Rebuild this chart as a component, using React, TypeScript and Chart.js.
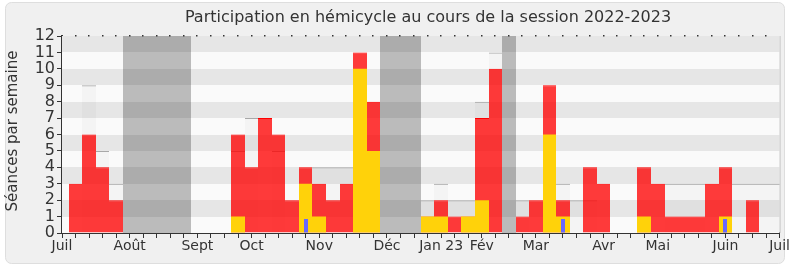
import React, { useEffect, useRef } from "react";
import { Chart, registerables } from "chart.js";

Chart.register(...registerables);

// Weekly positions (54 ticks, Juil 2022 → Juil 2023)
const weekLabels: string[] = [
  "Juil", "", "", "", "", "Août", "", "", "", "", "Sept", "", "", "", "Oct", "", "", "", "",
  "Nov", "", "", "", "", "Déc", "", "", "", "Jan 23", "", "", "Fév", "", "", "", "Mar",
  "", "", "", "", "Avr", "", "", "", "Mai", "", "", "", "", "Juin", "", "", "", "Juil",
];

// Présences en hémicycle (red)
const presence: (number | null)[] = [
  null, 3, 6, 4, 2, null, null, null, null, null, null, null, null, 6, 4, 7, 6, 2,
  4, 3, 2, 3, 11, 8, null, null, null, 1, 2, 1, 1, 7, 10, null, 1, 2,
  9, 2, null, 4, 3, null, null, 4, 3, 1, 1, 1, 3, 4, null, 2, null, null,
];

// Interventions (yellow)
const interventions: (number | null)[] = [
  null, null, null, null, null, null, null, null, null, null, null, null, null, 1, null, null, null, null,
  3, 1, null, null, 10, 5, null, null, null, 1, 1, null, 1, 2, null, null, null, null,
  6, 1, null, null, null, null, null, 1, null, null, null, null, null, 1, null, null, null, null,
];

// Questions orales (blue)
const questions: (number | null)[] = [
  null, null, null, null, null, null, null, null, null, null, null, null, null, null, null, null, null, null,
  0.85, null, null, null, null, null, null, null, null, null, null, null, null, null, null, null, null, null,
  null, 0.85, null, null, null, null, null, null, null, null, null, null, null, 0.85, null, null, null, null,
];

// Médiane des députés (light grey)
const mediane: (number | null)[] = [
  null, null, 9, 5, 3, null, null, null, null, null, null, null, null, 5, 7, null, 5, null,
  null, 4, 4, 4, null, null, null, null, null, 2, 3, 2, 2, 8, 11, null, 2, null,
  null, 3, 2, 2, null, null, null, null, null, 3, 3, 3, null, null, 3, 3, 3, 3,
];

// Vacances parlementaires (grey columns)
const vacances: number[] = [5, 6, 7, 8, 9, 24, 25, 26, 33];

const yTicks: number[] = [0, 1, 2, 3, 4, 5, 6, 7, 8, 9, 10, 11, 12];

const TITLE = "Participation en hémicycle au cours de la session 2022-2023";
const Y_TITLE = "Séances par semaine";
const FONT = "'DejaVu Sans', Verdana, sans-serif";

const decorPlugin = {
  id: "decor",
  beforeDraw(chart: any) {
    const { ctx, width, height } = chart;
    ctx.save();
    ctx.fillStyle = "#ffffff";
    ctx.fillRect(0, 0, width, height);
    ctx.beginPath();
    (ctx as any).roundRect(5.5, 2.5, width - 11, height - 6, 6);
    ctx.fillStyle = "#f0f0f0";
    ctx.fill();
    ctx.strokeStyle = "#dedede";
    ctx.lineWidth = 1;
    ctx.stroke();
    // title
    ctx.fillStyle = "#333333";
    ctx.font = `16px ${FONT}`;
    ctx.textAlign = "center";
    ctx.textBaseline = "middle";
    ctx.fillText(TITLE, 428, 18);
    // y title
    ctx.translate(13, 131);
    ctx.rotate(-Math.PI / 2);
    ctx.font = `15px ${FONT}`;
    ctx.fillText(Y_TITLE, 0, 0);
    ctx.restore();
  },
  beforeDatasetsDraw(chart: any) {
    const { ctx, chartArea } = chart;
    const x = chart.scales.x;
    const y = chart.scales.y;
    const { left, right, top, bottom } = chartArea;
    // snap bar edges to whole pixels so adjacent bars join without seams
    chart.data.datasets.forEach((_: any, di: number) => {
      const meta = chart.getDatasetMeta(di);
      meta.data.forEach((el: any) => {
        if (el.x == null || el.width == null || isNaN(el.x)) return;
        const l = Math.round(el.x - el.width / 2);
        const r = Math.round(el.x + el.width / 2);
        el.x = (l + r) / 2;
        el.width = r - l;
      });
    });
    ctx.save();
    ctx.beginPath();
    ctx.rect(left, top, right - left, bottom - top);
    ctx.clip();
    // horizontal bands
    for (let i = 0; i < yTicks.length - 1; i++) {
      const y0 = Math.round(y.getPixelForValue(yTicks[i]));
      const y1 = Math.round(y.getPixelForValue(yTicks[i + 1]));
      ctx.fillStyle = i % 2 === 0 ? "#fafafa" : "#e6e6e6";
      ctx.fillRect(left, y1, right - left, y0 - y1);
    }
    // vacation columns
    const step = x.getPixelForValue(1) - x.getPixelForValue(0);
    ctx.fillStyle = "rgba(0,0,0,0.25)";
    vacances.forEach((w) => {
      const cx = x.getPixelForValue(w);
      const l = Math.round(cx - step / 2);
      const r = Math.round(cx + step / 2);
      ctx.fillRect(l, top, r - l, bottom - top);
    });
    ctx.restore();
    // right border
    ctx.save();
    ctx.strokeStyle = "#c8c8c8";
    ctx.lineWidth = 1;
    ctx.beginPath();
    ctx.moveTo(right + 0.5, top);
    ctx.lineTo(right + 0.5, bottom);
    ctx.stroke();
    // top dots
    ctx.fillStyle = "#333";
    for (let i = 1; i < weekLabels.length - 1; i++) {
      const cx = Math.round(x.getPixelForValue(i));
      ctx.fillRect(cx - 1, top - 1, 1.5, 1.5);
    }
    ctx.restore();
  },
};

export default function App() {
  const ref = useRef<HTMLCanvasElement | null>(null);
  useEffect(() => {
    document.body.style.margin = "0";
    const canvas = ref.current;
    if (!canvas) return;
    const common = { categoryPercentage: 1, barPercentage: 1, grouped: false, inflateAmount: 0 };
    const chart = new Chart(canvas, {
      type: "bar",
      data: {
        labels: weekLabels,
        datasets: [
          {
            label: "Questions orales",
            data: questions,
            backgroundColor: "#6868ff",
            barThickness: 4,
            grouped: false,
            inflateAmount: 0,
            order: 1,
          } as any,
          {
            ...common,
            label: "Interventions",
            data: interventions,
            backgroundColor: "#ffd20a",
            order: 2,
          } as any,
          {
            ...common,
            label: "Présences",
            data: presence,
            backgroundColor: "rgba(255,0,0,0.77)",
            borderColor: "#ff0000",
            borderWidth: { top: 1, left: 0, right: 0, bottom: 0 },
            borderSkipped: false,
            order: 3,
          } as any,
          {
            ...common,
            label: "Médiane",
            data: mediane,
            backgroundColor: "rgba(0,0,0,0.025)",
            borderColor: "#a8a8a8",
            borderWidth: { top: 1, left: 0, right: 0, bottom: 0 },
            borderSkipped: false,
            order: 4,
          } as any,
        ],
      },
      options: {
        animation: false,
        responsive: false,
        maintainAspectRatio: false,
        layout: { padding: { left: 0, right: 10, top: 36, bottom: 0 } },
        plugins: { legend: { display: false }, tooltip: { enabled: false }, title: { display: false } },
        scales: {
          x: {
            type: "category",
            offset: false,
            afterFit: (s: any) => { s.height = 34; },
            grid: { display: true, drawOnChartArea: false, drawTicks: true, tickLength: 5, tickColor: "#333", offset: false },
            border: { display: true, color: "#333", width: 2 },
            ticks: { autoSkip: false, maxRotation: 0, minRotation: 0, color: "#333", padding: 0, font: { family: FONT, size: 14 } },
          },
          y: {
            type: "linear",
            min: 0,
            max: 12,
            afterFit: (s: any) => { s.width = 62; },
            afterBuildTicks: (s: any) => { s.ticks = yTicks.map((v) => ({ value: v })); },
            grid: { display: true, drawOnChartArea: false, drawTicks: true, tickLength: 5, tickColor: "#333" },
            border: { display: true, color: "#333", width: 2 },
            ticks: { autoSkip: false, color: "#333", padding: 2, font: { family: FONT, size: 16 } },
          },
        },
      },
      plugins: [decorPlugin],
    } as any);
    return () => chart.destroy();
  }, []);
  return <canvas ref={ref} width={790} height={267} style={{ display: "block", width: 790, height: 267 }} />;
}
